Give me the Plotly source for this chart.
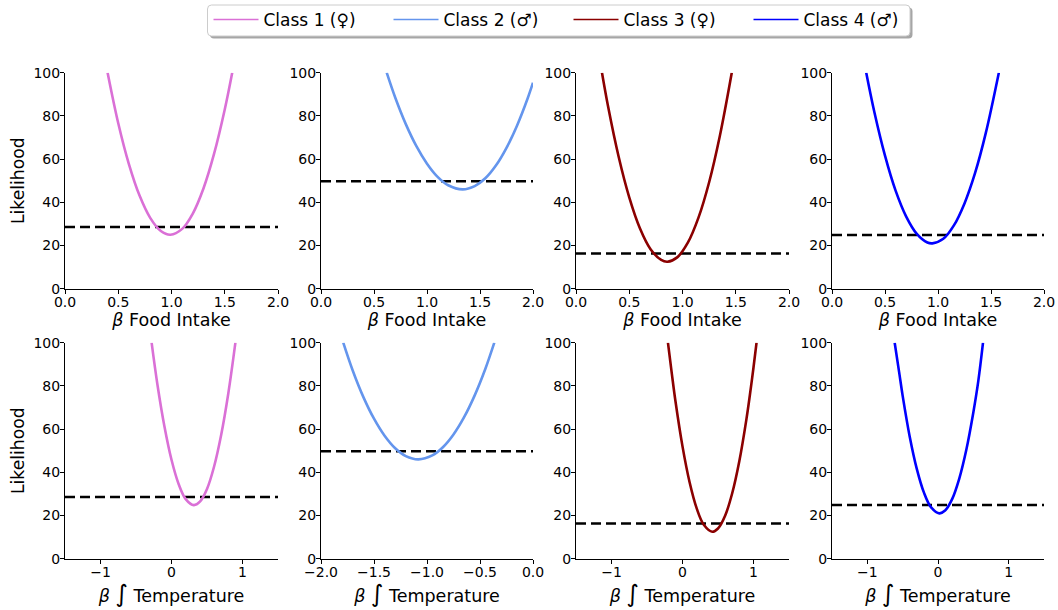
import plotly.graph_objects as go

W, H = 1058, 610

class_names = ["Class 1 (♀)", "Class 2 (♂)", "Class 3 (♀)", "Class 4 (♂)"]
class_colors = ["#DA70D6", "#6495ED", "#8B0000", "#0000FF"]

# Top row: beta Food Intake
food_x1 = [0.40, 0.50, 0.60, 0.70, 0.80, 0.90, 0.99, 1.10, 1.20, 1.30, 1.40, 1.50, 1.57]
food_y1 = [100, 76.6, 57.7, 43.1, 32.8, 26.7, 25.0, 27.7, 34.8, 46.4, 62.5, 83.0, 100]
food_x2 = [0.62, 0.70, 0.80, 0.90, 1.00, 1.10, 1.20, 1.336, 1.45, 1.55, 1.65, 1.75, 1.85, 1.95, 2.00]
food_y2 = [100, 88.5, 76.2, 66.0, 57.9, 51.8, 47.9, 46.0, 47.5, 51.1, 57.0, 65.2, 75.6, 88.2, 95.4]
food_x3 = [0.244, 0.30, 0.40, 0.50, 0.60, 0.70, 0.80, 0.859, 0.95, 1.05, 1.15, 1.25, 1.35, 1.4625]
food_y3 = [100, 84.7, 61.2, 42.3, 28.0, 18.3, 13.3, 12.5, 14.5, 21.3, 32.9, 49.3, 70.6, 100]
food_x4 = [0.323, 0.40, 0.50, 0.60, 0.70, 0.80, 0.90, 0.947, 1.05, 1.15, 1.25, 1.35, 1.45, 1.574]
food_y4 = [100, 81.7, 61.6, 45.4, 33.4, 25.4, 21.4, 21.0, 23.1, 29.3, 39.5, 53.6, 71.9, 100]

# Bottom row: beta integral Temperature
temp_x1 = [-0.28, -0.20, -0.10, 0.00, 0.10, 0.20, 0.315, 0.40, 0.50, 0.60, 0.70, 0.80, 0.90]
temp_y1 = [100, 81.0, 61.3, 45.8, 34.6, 27.6, 24.8, 26.4, 32.3, 42.7, 57.4, 76.5, 100]
temp_x2 = [-1.79, -1.70, -1.60, -1.50, -1.40, -1.30, -1.20, -1.081, -0.95, -0.85, -0.75, -0.65, -0.55, -0.45, -0.365]
temp_y2 = [100, 87.0, 74.8, 64.8, 56.9, 51.1, 47.5, 46.0, 47.8, 51.6, 57.5, 65.5, 75.6, 87.8, 100]
temp_x3 = [-0.205, -0.15, -0.10, 0.00, 0.10, 0.20, 0.30, 0.419, 0.50, 0.60, 0.70, 0.80, 0.90, 0.95, 1.00, 1.043]
temp_y3 = [100, 85.6, 73.1, 52.0, 35.4, 23.3, 15.7, 12.5, 14.0, 19.9, 30.3, 45.1, 64.5, 76.0, 88.5, 100]
temp_x4 = [-0.613, -0.55, -0.50, -0.40, -0.30, -0.20, -0.10, 0.019, 0.10, 0.20, 0.30, 0.40, 0.50, 0.57, 0.637]
temp_y4 = [100, 86.4, 75.4, 56.5, 41.6, 30.7, 23.9, 21.0, 22.3, 27.6, 37.0, 50.3, 67.7, 82.2, 100]

thresholds = [28.6, 49.7, 16.3, 24.9]

food_range = [0.0, 2.0]
temp_ranges = [[-1.5, 1.5], [-2.0, 0.0], [-1.5, 1.5], [-1.5, 1.5]]
food_ticks = [0.0, 0.5, 1.0, 1.5, 2.0]
temp_ticks = [[-1, 0, 1], [-2.0, -1.5, -1.0, -0.5, 0.0], [-1, 0, 1], [-1, 0, 1]]
y_ticks = [0, 20, 40, 60, 80, 100]

food_xs = [food_x1, food_x2, food_x3, food_x4]
food_ys = [food_y1, food_y2, food_y3, food_y4]
temp_xs = [temp_x1, temp_x2, temp_x3, temp_x4]
temp_ys = [temp_y1, temp_y2, temp_y3, temp_y4]

FONT = "DejaVu Sans"
col_px = [(65, 278), (321, 533), (576, 789), (832, 1044)]
row_px = [(72.7, 288.7), (342.7, 558.7)]
row_tick_shift = [-4, -4]
row_title_standoff = [3, 6]

fig = go.Figure()
layout = {}

for r in range(2):
    for c in range(4):
        idx = r * 4 + c + 1
        xa = "x" if idx == 1 else f"x{idx}"
        ya = "y" if idx == 1 else f"y{idx}"
        if r == 0:
            xs, ys, xr, xt = food_xs[c], food_ys[c], food_range, food_ticks
            fmt = ".1f"
            xtitle = "<i>β</i> Food Intake"
        else:
            xs, ys, xr, xt = temp_xs[c], temp_ys[c], temp_ranges[c], temp_ticks[c]
            fmt = ".1f" if c == 1 else "d"
            xtitle = "<i>β</i> <span style='font-size:24px'>∫</span> Temperature"
        fig.add_trace(go.Scatter(x=[xr[0], xr[1]], y=[thresholds[c], thresholds[c]], mode="lines",
                                 line=dict(color="black", width=2.5, dash="10px,5px"),
                                 xaxis=xa, yaxis=ya, showlegend=False, hoverinfo="skip"))
        fig.add_trace(go.Scatter(x=xs, y=ys, mode="lines",
                                 line=dict(color=class_colors[c], width=2.6, shape="spline", smoothing=1.0),
                                 xaxis=xa, yaxis=ya, showlegend=False))
        x0, x1 = col_px[c]
        y0, y1 = row_px[r]
        axis_common = dict(showline=True, linecolor="black", linewidth=1, ticks="outside",
                           ticklen=4, tickwidth=1, tickcolor="black", showgrid=False, zeroline=False,
                           mirror=False, automargin=False,
                           tickfont=dict(family=FONT, size=14, color="black"))
        layout["xaxis" if idx == 1 else f"xaxis{idx}"] = dict(
            domain=[x0 / W, x1 / W], anchor=ya, range=xr, tickvals=xt, tickformat=fmt,
            ticklabelstandoff=row_tick_shift[r],
            title=dict(text=xtitle, font=dict(family=FONT, size=17.5, color="black"),
                       standoff=row_title_standoff[r]),
            **axis_common)
        yd = dict(domain=[1 - y1 / H, 1 - y0 / H], anchor=xa, range=[0, 100], tickvals=y_ticks,
                  ticklabelstandoff=-3, **axis_common)
        if c == 0:
            yd["title"] = dict(text="Likelihood", font=dict(family=FONT, size=17.2, color="black"), standoff=4)
        layout["yaxis" if idx == 1 else f"yaxis{idx}"] = yd

for name, color in zip(class_names, class_colors):
    fig.add_trace(go.Scatter(x=[None], y=[None], mode="lines", name=name,
                             line=dict(color=color, width=1.5)))


def rounded_rect(x0, y0, x1, y1, rad):
    def px(x):
        return x / W

    def py(y):
        return 1 - y / H
    pts = [
        f"M {px(x0 + rad)},{py(y0)}",
        f"L {px(x1 - rad)},{py(y0)}",
        f"Q {px(x1)},{py(y0)} {px(x1)},{py(y0 + rad)}",
        f"L {px(x1)},{py(y1 - rad)}",
        f"Q {px(x1)},{py(y1)} {px(x1 - rad)},{py(y1)}",
        f"L {px(x0 + rad)},{py(y1)}",
        f"Q {px(x0)},{py(y1)} {px(x0)},{py(y1 - rad)}",
        f"L {px(x0)},{py(y0 + rad)}",
        f"Q {px(x0)},{py(y0)} {px(x0 + rad)},{py(y0)}",
        "Z",
    ]
    return " ".join(pts)


fig.update_layout(**layout)
fig.update_layout(
    width=W, height=H, margin=dict(l=0, r=0, t=0, b=0, autoexpand=False),
    paper_bgcolor="white", plot_bgcolor="white",
    font=dict(family=FONT, size=14, color="black"),
    showlegend=True,
    legend=dict(orientation="h", x=208.5 / W, xanchor="left", y=1 - 2 / H, yanchor="top",
                bgcolor="rgba(0,0,0,0)", borderwidth=0,
                itemwidth=45, entrywidth=120, entrywidthmode="pixels",
                font=dict(family=FONT, size=17, color="black")),
    shapes=[
        dict(type="path", xref="paper", yref="paper", path=rounded_rect(210, 7.5, 912.5, 38.5, 4),
             fillcolor="rgba(0,0,0,0.35)", line=dict(width=0), layer="above"),
        dict(type="path", xref="paper", yref="paper", path=rounded_rect(207.5, 5, 910, 36, 4),
             fillcolor="white", line=dict(width=1, color="#CCCCCC"), layer="above"),
    ],
)

fig.write_html("out.html", config={"displayModeBar": False},
               post_script="document.body.style.margin='0px';")
